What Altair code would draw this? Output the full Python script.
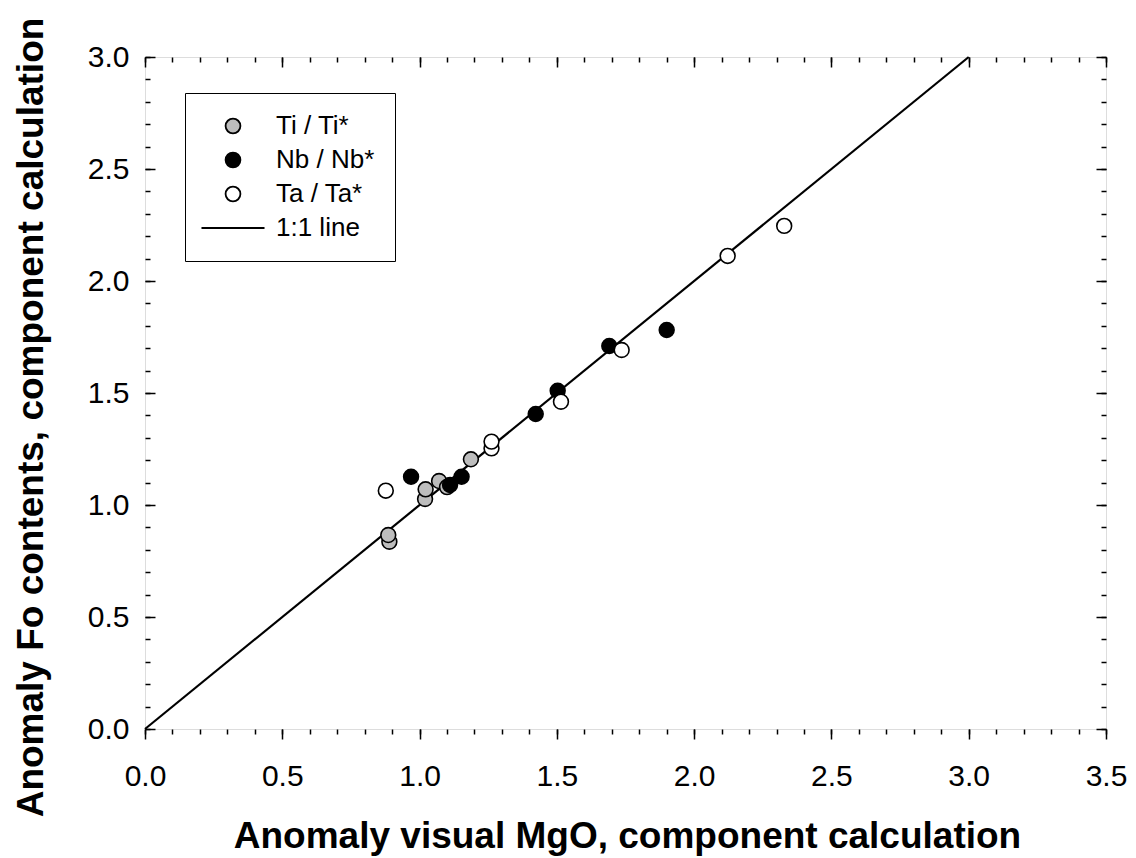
import altair as alt
import pandas as pd

# data
ti_x = [0.890, 0.886, 1.020, 1.022, 1.071, 1.100, 1.187]
ti_y = [0.836, 0.866, 1.027, 1.070, 1.107, 1.080, 1.204]
nb_x = [0.969, 1.111, 1.153, 1.423, 1.503, 1.691, 1.900]
nb_y = [1.126, 1.089, 1.126, 1.406, 1.510, 1.710, 1.781]
ta_x = [0.877, 1.262, 1.262, 1.515, 1.736, 2.122, 2.328]
ta_y = [1.064, 1.253, 1.283, 1.461, 1.692, 2.112, 2.246]
line_x = [0.0, 3.0]
line_y = [0.0, 3.0]

series = ["Ti / Ti*", "Nb / Nb*", "Ta / Ta*", "1:1 line"]
fills = ["#bdbdbd", "black", "white", "black"]
shapes = ["circle", "circle", "circle", "M-4.25,0H4.25"]

x_major = [0, 0.5, 1.0, 1.5, 2.0, 2.5, 3.0, 3.5]
y_major = [0, 0.5, 1.0, 1.5, 2.0, 2.5, 3.0]
x_minor = [round(i * 0.1, 1) for i in range(36)]
y_minor = [round(i * 0.1, 1) for i in range(31)]

W, H = 961, 672
FONT = "Liberation Sans"

rows = []
for name, xs_, ys_ in [("Ti / Ti*", ti_x, ti_y), ("Nb / Nb*", nb_x, nb_y), ("Ta / Ta*", ta_x, ta_y)]:
    for a, b in zip(xs_, ys_):
        rows.append({"x": a, "y": b, "series": name})
pts = pd.DataFrame(rows)
pts["order"] = range(len(pts))
line_df = pd.DataFrame({"x": line_x, "y": line_y})

xs = alt.Scale(domain=[0, 3.5], nice=False, zero=False)
ys = alt.Scale(domain=[0, 3.0], nice=False, zero=False)


def tick_axis(orient, values, size, offset=0):
    kw = dict(orient=orient, values=values, tickSize=size, labels=False, domain=False,
              title=None, grid=False, tickColor="black", tickWidth=1.5)
    if offset:
        kw["offset"] = offset
    return alt.Axis(**kw)


line_layer = alt.Chart(line_df).mark_line(color="black", strokeWidth=2.2).encode(
    x=alt.X("x:Q", scale=xs, axis=alt.Axis(
        orient="bottom", values=x_major, format=".1f", tickSize=10, tickWidth=1.5,
        tickColor="black", labelFontSize=30, labelFont=FONT, labelColor="black",
        labelPadding=22, labelFlush=False, domain=False, grid=False,
        title="Anomaly visual MgO, component calculation", titleFontSize=37,
        titleFont=FONT, titleFontWeight="bold", titleColor="black",
        titleX=482, titleY=118, titleBaseline="alphabetic", titleAlign="center")),
    y=alt.Y("y:Q", scale=ys, axis=alt.Axis(
        orient="left", values=y_major, format=".1f", ticks=False,
        labelFontSize=30, labelFont=FONT, labelColor="black", labelPadding=16,
        labelFlush=False, domain=False, grid=False,
        title="Anomaly Fo contents, component calculation", titleFontSize=37,
        titleFont=FONT, titleFontWeight="bold", titleColor="black",
        titleX=-103, titleY=360, titleBaseline="alphabetic", titleAlign="center",
        titleAngle=270)),
)

point_layer = alt.Chart(pts).mark_point(
    filled=True, stroke="black", strokeWidth=1.6, opacity=1, size=220
).encode(
    x=alt.X("x:Q", scale=xs, axis=tick_axis("bottom", x_minor, 5)),
    y=alt.Y("y:Q", scale=ys, axis=tick_axis("right", y_minor, 5, -W)),
    fill=alt.Fill("series:N", scale=alt.Scale(domain=series, range=fills), legend=alt.Legend(
        title=None, orient="none", legendX=40, legendY=36, strokeColor="black",
        fillColor="white", padding=20, labelFontSize=26, labelFont=FONT,
        labelColor="black", rowPadding=8, labelOffset=30, symbolOffset=15,
        symbolSize=220, symbolStrokeWidth=1.8, symbolStrokeColor="black")),
    shape=alt.Shape("series:N", scale=alt.Scale(domain=series, range=shapes)),
    order=alt.Order("order:Q"),
)

inv1 = alt.Chart(line_df).mark_point(opacity=0).encode(
    x=alt.X("x:Q", scale=xs, axis=tick_axis("bottom", x_major, 10, -H)),
    y=alt.Y("y:Q", scale=ys, axis=tick_axis("right", y_major, 10, -W)),
)
inv2 = alt.Chart(line_df).mark_point(opacity=0).encode(
    x=alt.X("x:Q", scale=xs, axis=tick_axis("bottom", x_minor, 5, -H)),
    y=alt.Y("y:Q", scale=ys, axis=tick_axis("left", y_minor, 5, -W)),
)
inv3 = alt.Chart(line_df).mark_point(opacity=0).encode(
    x=alt.X("x:Q", scale=xs, axis=None),
    y=alt.Y("y:Q", scale=ys, axis=tick_axis("left", y_major, 10, -W)),
)

chart = alt.layer(line_layer, inv1, inv2, inv3, point_layer).resolve_axis(
    x="independent", y="independent"
).properties(
    width=W, height=H,
    autosize=alt.AutoSizeParams(type="none"),
    padding={"left": 137, "top": 49, "right": 22, "bottom": 129},
).configure_view(stroke="black", strokeWidth=1.8).configure(background="white")

chart.save("out.html", embed_options={"renderer": "svg", "actions": False})
